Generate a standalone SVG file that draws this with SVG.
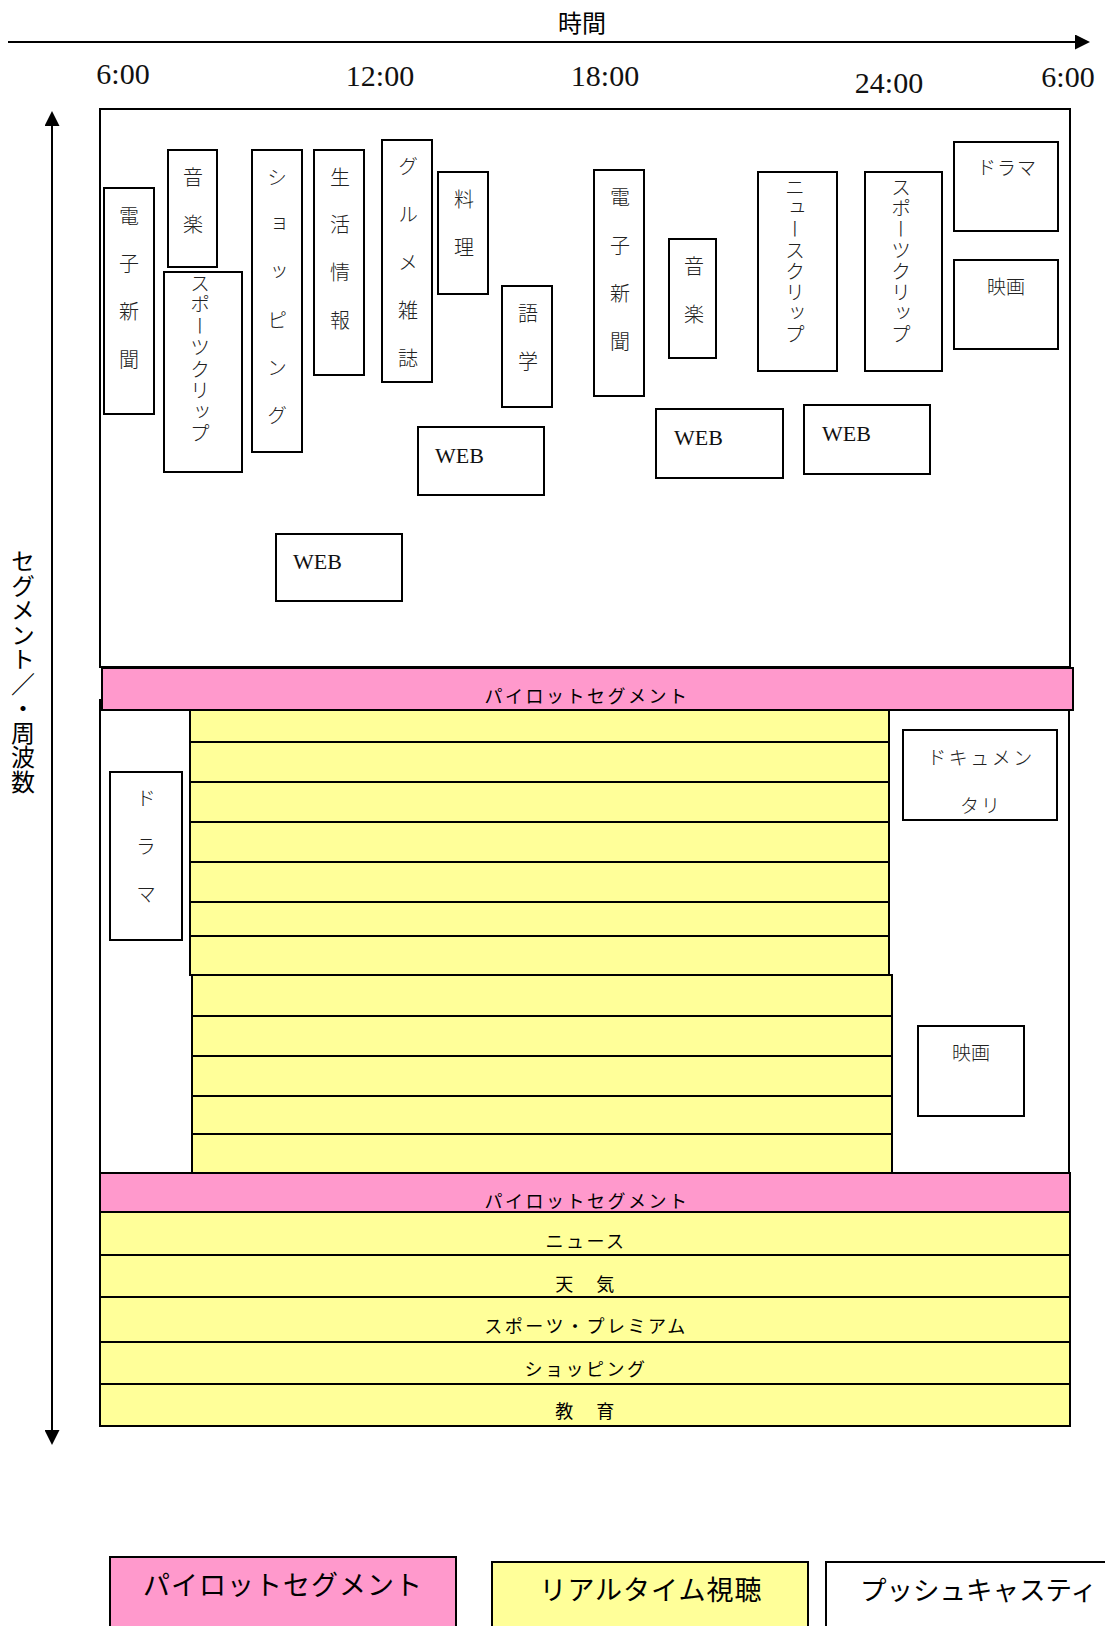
<svg xmlns="http://www.w3.org/2000/svg" width="1105" height="1626" viewBox="0 0 1105 1626">
<defs>
<marker id="ah" viewBox="0 0 15 15" markerWidth="15" markerHeight="15" refX="5" refY="7.5" orient="auto-start-reverse" markerUnits="userSpaceOnUse">
<path d="M0,0 L15,7.5 L0,15 z" fill="#000"/>
</marker>
<style>
.box{fill:#fff;stroke:#000;stroke-width:2}
.pink{fill:#FF99CC;stroke:#000;stroke-width:2}
.yel{fill:#FFFF99;stroke:#000;stroke-width:2}
.frame{fill:#fff;stroke:#000;stroke-width:2}
.vt{font-family:"Noto Sans CJK JP","Noto Sans",sans-serif;font-size:20px;writing-mode:vertical-rl;fill:#222;font-weight:300}
.ht{font-family:"Noto Sans CJK JP","Noto Sans",sans-serif;font-size:19px;fill:#222;font-weight:300;text-anchor:middle}
.web{font-family:"Liberation Serif",serif;font-size:22px;fill:#111}
.time{font-family:"Liberation Serif",serif;font-size:30px;fill:#111;text-anchor:middle}
.band{font-family:"Noto Sans CJK JP","Noto Sans",sans-serif;font-size:18px;fill:#000;text-anchor:middle;letter-spacing:2.5px}
.leg{font-family:"Noto Sans CJK JP","Noto Sans",sans-serif;font-size:27px;fill:#000;letter-spacing:1px}
.axis{font-family:"Noto Sans CJK JP","Noto Sans",sans-serif;font-size:24px;fill:#000}
</style>
</defs>

<g id="connectors">
<line x1="8" y1="42" x2="1080" y2="42" stroke="#000" stroke-width="2" marker-end="url(#ah)"/>
<line x1="52" y1="121" x2="52" y2="1435" stroke="#000" stroke-width="2" marker-start="url(#ah)" marker-end="url(#ah)"/>
</g>

<g id="axis-labels">
<text class="axis" x="582" y="32" text-anchor="middle">時間</text>
<text class="axis" x="23" y="549" style="writing-mode:vertical-rl;letter-spacing:0.5px">セグメント／・周波数</text>
<text class="time" x="123" y="84">6:00</text>
<text class="time" x="380" y="86">12:00</text>
<text class="time" x="605" y="86">18:00</text>
<text class="time" x="889" y="93">24:00</text>
<text class="time" x="1068" y="87">6:00</text>
</g>

<g id="upper-frame"><rect class="frame" x="100" y="109" width="970" height="558"/></g>
<g id="lower-frame"><rect class="frame" x="100" y="700" width="969" height="473"/></g>

<g id="n-denshi1"><rect class="box" x="104" y="188" width="50" height="226"/><text class="vt" x="129" y="206" style="letter-spacing:27.7px">電子新聞</text></g>
<g id="n-ongaku1"><rect class="box" x="168" y="150" width="49" height="117"/><text class="vt" x="193" y="167" style="letter-spacing:27px">音楽</text></g>
<g id="n-sports1"><rect class="box" x="164" y="272" width="78" height="200"/><text class="vt" x="200" y="273" style="letter-spacing:1.5px">スポーツクリップ</text></g>
<g id="n-shopping"><rect class="box" x="252" y="150" width="50" height="302"/><text class="vt" x="277" y="167" style="letter-spacing:27.7px">ショッピング</text></g>
<g id="n-seikatsu"><rect class="box" x="314" y="150" width="50" height="225"/><text class="vt" x="340" y="167" style="letter-spacing:27.7px">生活情報</text></g>
<g id="n-gourmet"><rect class="box" x="382" y="140" width="50" height="242"/><text class="vt" x="408" y="156" style="letter-spacing:28px">グルメ雑誌</text></g>
<g id="n-ryouri"><rect class="box" x="438" y="172" width="50" height="122"/><text class="vt" x="464" y="189" style="letter-spacing:28px">料理</text></g>
<g id="n-gogaku"><rect class="box" x="502" y="286" width="50" height="121"/><text class="vt" x="528" y="303" style="letter-spacing:28px">語学</text></g>
<g id="n-web1"><rect class="box" x="418" y="427" width="126" height="68"/><text class="web" x="435" y="463">WEB</text></g>
<g id="n-web4"><rect class="box" x="276" y="534" width="126" height="67"/><text class="web" x="293" y="569">WEB</text></g>
<g id="n-denshi2"><rect class="box" x="594" y="170" width="50" height="226"/><text class="vt" x="620" y="187" style="letter-spacing:28px">電子新聞</text></g>
<g id="n-ongaku2"><rect class="box" x="669" y="239" width="47" height="119"/><text class="vt" x="694" y="256" style="letter-spacing:28px">音楽</text></g>
<g id="n-news"><rect class="box" x="758" y="172" width="79" height="199"/><text class="vt" x="795" y="177" style="letter-spacing:1px">ニュースクリップ</text></g>
<g id="n-sports2"><rect class="box" x="865" y="172" width="77" height="199"/><text class="vt" x="901" y="177" style="letter-spacing:1px">スポーツクリップ</text></g>
<g id="n-drama1"><rect class="box" x="954" y="142" width="104" height="89"/><text class="ht" x="1007" y="175" style="letter-spacing:1px">ドラマ</text></g>
<g id="n-eiga1"><rect class="box" x="954" y="260" width="104" height="89"/><text class="ht" x="1006" y="294">映画</text></g>
<g id="n-web2"><rect class="box" x="656" y="409" width="127" height="69"/><text class="web" x="674" y="445">WEB</text></g>
<g id="n-web3"><rect class="box" x="804" y="405" width="126" height="69"/><text class="web" x="822" y="441">WEB</text></g>

<g id="realtime-a">
<rect class="yel" x="190" y="710" width="699" height="32"/>
<rect class="yel" x="190" y="742" width="699" height="40"/>
<rect class="yel" x="190" y="782" width="699" height="40"/>
<rect class="yel" x="190" y="822" width="699" height="40"/>
<rect class="yel" x="190" y="862" width="699" height="40"/>
<rect class="yel" x="190" y="902" width="699" height="34"/>
<rect class="yel" x="190" y="936" width="699" height="39"/>
</g>
<g id="realtime-b">
<rect class="yel" x="192" y="975" width="700" height="41"/>
<rect class="yel" x="192" y="1016" width="700" height="40"/>
<rect class="yel" x="192" y="1056" width="700" height="40"/>
<rect class="yel" x="192" y="1096" width="700" height="38"/>
<rect class="yel" x="192" y="1134" width="700" height="39"/>
</g>

<g id="pilot1"><rect class="pink" x="102" y="668" width="971" height="42"/><text class="band" x="587" y="703">パイロットセグメント</text></g>

<g id="n-drama2"><rect class="box" x="110" y="772" width="72" height="168"/><text class="vt" x="146" y="788" style="letter-spacing:28px">ドラマ</text></g>
<g id="n-documentary"><rect class="box" x="903" y="730" width="154" height="90"/><text class="ht" x="981" y="765" style="letter-spacing:2.5px">ドキュメン</text><text class="ht" x="981" y="813" style="letter-spacing:2px">タリ</text></g>
<g id="n-eiga2"><rect class="box" x="918" y="1026" width="106" height="90"/><text class="ht" x="971" y="1060">映画</text></g>

<g id="pilot2"><rect class="pink" x="100" y="1173" width="970" height="39"/><text class="band" x="587" y="1208">パイロットセグメント</text></g>

<g id="row-news"><rect class="yel" x="100" y="1212" width="970" height="43"/><text class="band" x="586" y="1248">ニュース</text></g>
<g id="row-weather"><rect class="yel" x="100" y="1255" width="970" height="42"/><text class="band" x="586" y="1291">天　気</text></g>
<g id="row-sports"><rect class="yel" x="100" y="1297" width="970" height="45"/><text class="band" x="586" y="1333">スポーツ・プレミアム</text></g>
<g id="row-shopping"><rect class="yel" x="100" y="1342" width="970" height="42"/><text class="band" x="586" y="1376">ショッピング</text></g>
<g id="row-education"><rect class="yel" x="100" y="1384" width="970" height="42"/><text class="band" x="586" y="1418">教　育</text></g>

<g id="legend-pilot"><rect class="pink" x="110" y="1557" width="346" height="80"/><text class="leg" x="283" y="1595" text-anchor="middle">パイロットセグメント</text></g>
<g id="legend-realtime"><rect class="yel" x="492" y="1562" width="316" height="80"/><text class="leg" x="651" y="1600" text-anchor="middle">リアルタイム視聴</text></g>
<g id="legend-push"><rect class="box" x="826" y="1562" width="300" height="80"/><text class="leg" x="860" y="1600" style="letter-spacing:0px;font-size:26.5px">プッシュキャスティ</text></g>
</svg>
